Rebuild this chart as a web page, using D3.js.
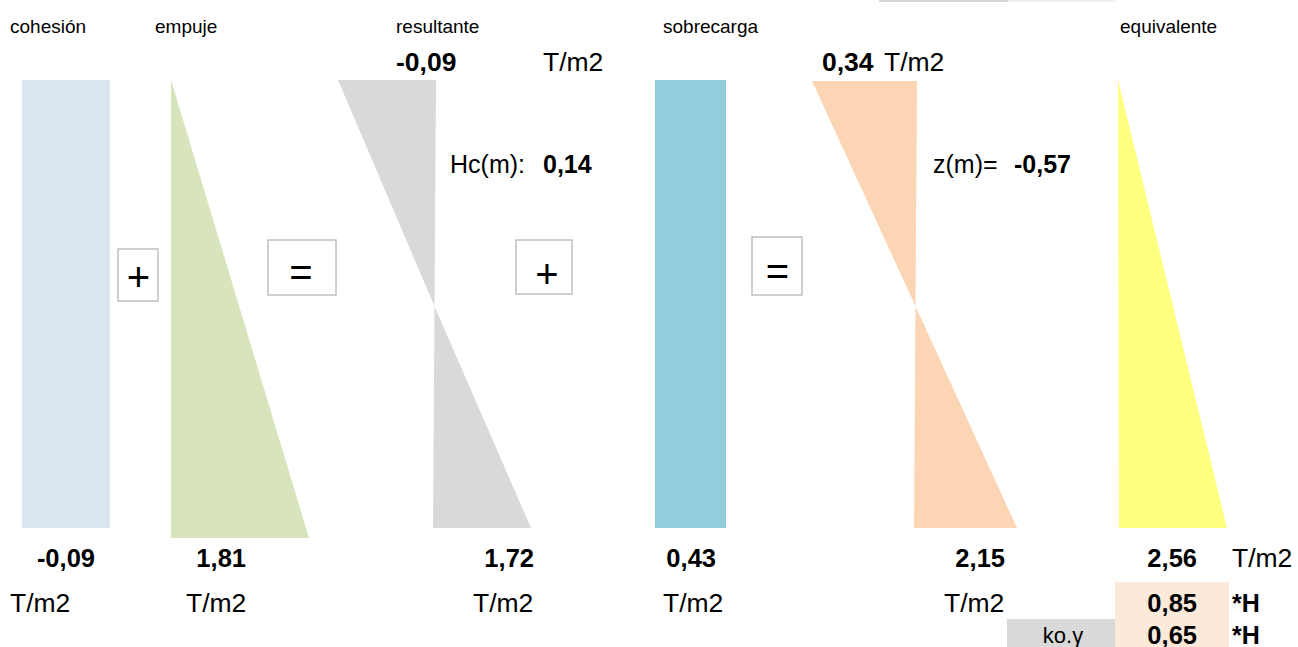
<!DOCTYPE html>
<html><head><meta charset="utf-8">
<script src="https://cdn.jsdelivr.net/npm/d3@7"></script>
<style>
html,body{margin:0;padding:0;background:#fff;}
svg{display:block;font-family:"Liberation Sans",Arial,sans-serif;}
</style></head>
<body>
<div id="chart"></div>
<script>
// ---- data ----
const panelLabels = ["cohesión", "empuje", "resultante", "sobrecarga", "equivalente"];
const bottomValues = [-0.09, 1.81, 1.72, 0.43, 2.15, 2.56];
const resultanteTop = -0.09;
const sobrecargaTop = 0.34;
const hcValue = 0.14;
const zValue = -0.57;
const factorLabels = ["*H", "*H"];
const factorValues = [0.85, 0.65];
const unitLabel = "T/m2";
const operators = ["+", "=", "+", "="];

const fmt = v => d3.format(".2f")(v).replace(".", ",").replace("−", "-");

// ---- layout ----
const W = 1298, H = 647;
const svg = d3.select("#chart").append("svg").attr("width", W).attr("height", H);

// depth scale (top of wall -> base)
const y = d3.scaleLinear().domain([0, 1]).range([80, 528]);

// small header strip
svg.append("rect").attr("x", 879).attr("y", 0).attr("width", 129).attr("height", 2).attr("fill", "#d4d4d4");
svg.append("rect").attr("x", 1008).attr("y", 0).attr("width", 108).attr("height", 2).attr("fill", "#f0f0f0");

// width scales for each diagram (schematic)
const xCoh = d3.scaleLinear().domain([0, Math.abs(bottomValues[0])]).range([22, 110]);
const xEmp = d3.scaleLinear().domain([0, bottomValues[1]]).range([171, 309]);
const xResTop = d3.scaleLinear().domain([0, resultanteTop]).range([436, 338]);
const xResBot = d3.scaleLinear().domain([0, bottomValues[2]]).range([433, 531]);
const xSob = d3.scaleLinear().domain([0, bottomValues[3]]).range([655, 726]);
const xOrTop = d3.scaleLinear().domain([0, sobrecargaTop]).range([917, 812]);
const xOrBot = d3.scaleLinear().domain([0, bottomValues[4]]).range([914, 1017]);
const xEq = d3.scaleLinear().domain([0, bottomValues[5]]).range([1118, 1227]);
const yEmp = d3.scaleLinear().domain([0, 1]).range([80, 538]);
const cross = 0.505;

const line = d3.line();
// cohesión rectangle
svg.append("path").attr("fill", "#dce6f1")
  .attr("d", line([[xCoh(0), y(0)], [xCoh(0.09), y(0)], [xCoh(0.09), y(1)], [xCoh(0), y(1)]]) + "Z");
// empuje triangle
svg.append("path").attr("fill", "#d8e4bc")
  .attr("d", line([[xEmp(0), yEmp(0)], [xEmp(bottomValues[1]), yEmp(1)], [xEmp(0), yEmp(1)]]) + "Z");
// resultante
svg.append("path").attr("fill", "#d9d9d9")
  .attr("d", line([[xResTop(resultanteTop), y(0)], [xResTop(0), y(0)], [434.5, y(cross)]]) + "Z");
svg.append("path").attr("fill", "#d9d9d9")
  .attr("d", line([[434.5, y(cross)], [xResBot(bottomValues[2]), y(1)], [xResBot(0), y(1)]]) + "Z");
// sobrecarga rectangle
svg.append("path").attr("fill", "#92cddc")
  .attr("d", line([[xSob(0), y(0)], [xSob(bottomValues[3]), y(0)], [xSob(bottomValues[3]), y(1)], [xSob(0), y(1)]]) + "Z");
// orange
svg.append("path").attr("fill", "#fcd5b4")
  .attr("d", line([[xOrTop(sobrecargaTop), y(0.002)], [xOrTop(0), y(0.002)], [915.5, y(cross)]]) + "Z");
svg.append("path").attr("fill", "#fcd5b4")
  .attr("d", line([[915.5, y(cross)], [xOrBot(bottomValues[4]), y(1)], [xOrBot(0), y(1)]]) + "Z");
// equivalente
svg.append("path").attr("fill", "#ffff80")
  .attr("d", line([[xEq(0), y(0)], [xEq(bottomValues[5]), y(1)], [xEq(0) + 1, y(1)]]) + "Z");

// operator boxes
const boxes = [
  {x: 118, y: 249, w: 40, h: 52, cx: 138.5, cy: 276.5},
  {x: 268, y: 240, w: 68, h: 55, cx: 301, cy: 271},
  {x: 516, y: 240, w: 56, h: 54, cx: 547, cy: 273},
  {x: 752, y: 237, w: 50, h: 58, cx: 777.5, cy: 270}
];
boxes.forEach((b, i) => {
  svg.append("rect").attr("x", b.x).attr("y", b.y).attr("width", b.w).attr("height", b.h)
    .attr("fill", "#fff").attr("stroke", "#c0c0c0").attr("stroke-width", 1.5);
  svg.append("text").attr("x", b.cx).attr("y", b.cy + 14.5).attr("text-anchor", "middle")
    .attr("font-size", 40).attr("fill", "#000").text(operators[i]);
});

// helper for text
function txt(x, yy, s, opts = {}) {
  return svg.append("text").attr("x", x).attr("y", yy)
    .attr("text-anchor", opts.anchor || "start")
    .attr("font-size", opts.size || 25)
    .attr("font-weight", opts.bold ? "bold" : "normal")
    .attr("fill", "#000").text(s);
}

// panel labels
const labelX = [10, 155, 396, 663, 1120];
panelLabels.forEach((l, i) => txt(labelX[i], 33, l, {size: 19}));

// top values
txt(396, 71, fmt(resultanteTop), {bold: true, size: 26.5});
txt(543, 71, unitLabel, {size: 26.5});
txt(822, 71, fmt(sobrecargaTop), {bold: true, size: 26.5});
txt(884, 71, unitLabel, {size: 26.5});

// Hc and z
txt(450, 173, "Hc(m):", {size: 25});
txt(543, 173, fmt(hcValue), {bold: true, size: 25});
txt(933, 173, "z(m)=", {size: 25});
txt(1014, 173, fmt(zValue), {bold: true, size: 25});

// bottom cells backgrounds
svg.append("rect").attr("x", 1115).attr("y", 582).attr("width", 114).attr("height", 65).attr("fill", "#fde9d9");
svg.append("rect").attr("x", 1007).attr("y", 619).attr("width", 108).attr("height", 28).attr("fill", "#d9d9d9");

// bottom values
const valueEndX = [95, 246, 534, 716, 1005, 1197];
bottomValues.forEach((v, i) => txt(valueEndX[i], 567, fmt(v), {bold: true, size: 25.5, anchor: "end"}));
txt(1232, 567, unitLabel, {size: 26.5});
const unitStartX = [10, 186, 473, 663, 944];
unitStartX.forEach(xx => txt(xx, 612, unitLabel, {size: 26.5}));

// factors
factorValues.forEach((v, i) => {
  txt(1197, 612 + i * 31.5, fmt(v), {bold: true, size: 25.5, anchor: "end"});
  txt(1232, 612 + i * 31.5, factorLabels[i], {bold: true, size: 25});
});
txt(1063, 643, "ko.γ", {size: 22, anchor: "middle"});
</script>
</body></html>
